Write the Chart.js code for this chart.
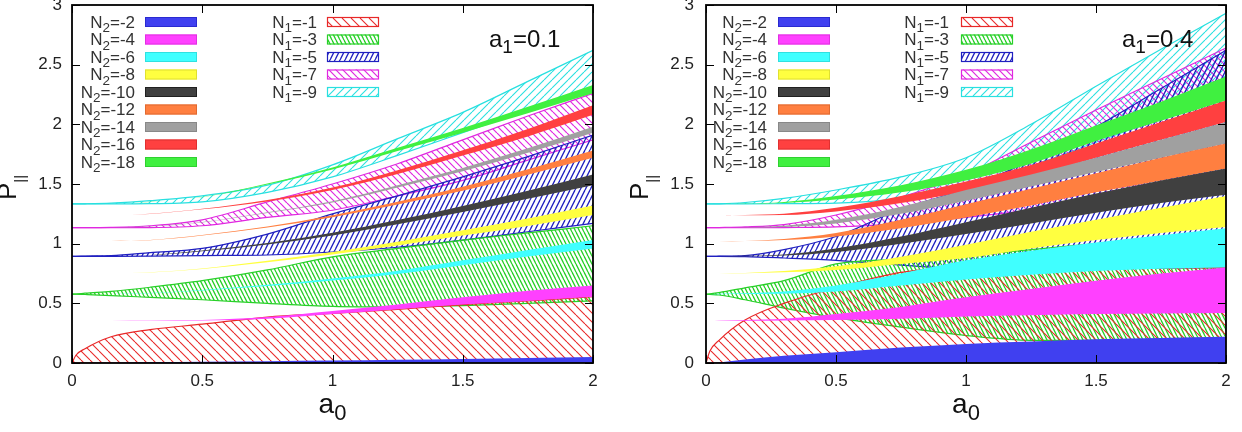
<!DOCTYPE html>
<html><head><meta charset="utf-8">
<script src="https://cdn.jsdelivr.net/npm/chart.js@4/dist/chart.umd.min.js"></script>
<style>
html,body{margin:0;padding:0;background:#fff;}
#wrap{position:relative;width:1242px;height:432px;overflow:hidden;}
.panel{position:absolute;top:0;width:621px;height:432px;}
canvas{display:block;}
</style></head><body>
<div id="wrap">
<div class="panel" style="left:0"><canvas id="c1" width="621" height="432"></canvas></div>
<div class="panel" style="left:621px"><canvas id="c2" width="621" height="432"></canvas></div>
</div>
<script>
// ---------- data ----------
const a0Grid = [0, 0.015, 0.05, 0.15, 0.3, 0.5, 0.75, 1, 1.25, 1.5, 1.75, 2];
const xTickVals = [0, 0.5, 1, 1.5, 2];
const xTickLabels = ['0', '0.5', '1', '1.5', '2'];
const yTickVals = [0, 0.5, 1, 1.5, 2, 2.5, 3];
const yTickLabels = ['0', '0.5', '1', '1.5', '2', '2.5', '3'];
const n2Names = ['-2', '-4', '-6', '-8', '-10', '-12', '-14', '-16', '-18'];
const n1Names = ['-1', '-3', '-5', '-7', '-9'];
const a1Values = ['0.1', '0.4'];

// panel a1 = 0.1 : N2 solid bands (lower / upper)
const A_N2m2_lo  = [0,0,0,0,0,0,0,0,0,0,0,0];
const A_N2m2_hi  = [0,0,0.001,0.003,0.006,0.01,0.015,0.02,0.027,0.034,0.042,0.05];
const A_N2m4_lo  = [0.354,0.354,0.354,0.354,0.354,0.356,0.37,0.41,0.45,0.49,0.52,0.555];
const A_N2m4_hi  = [0.354,0.354,0.354,0.355,0.356,0.36,0.385,0.435,0.49,0.55,0.605,0.65];
const A_N2m6_lo  = [0.577,0.577,0.577,0.579,0.584,0.608,0.645,0.691,0.746,0.82,0.893,0.96];
const A_N2m6_hi  = [0.577,0.577,0.577,0.579,0.586,0.612,0.655,0.709,0.774,0.86,0.947,1.03];
const A_N2m8_lo  = [0.75,0.75,0.75,0.752,0.759,0.788,0.844,0.91,0.984,1.068,1.149,1.24];
const A_N2m8_hi  = [0.75,0.75,0.75,0.752,0.761,0.792,0.856,0.93,1.016,1.112,1.211,1.32];
const A_N2m10_lo = [0.894,0.894,0.894,0.896,0.904,0.937,0.994,1.069,1.162,1.265,1.376,1.49];
const A_N2m10_hi = [0.894,0.894,0.894,0.896,0.906,0.943,1.006,1.091,1.198,1.315,1.444,1.58];
const A_N2m12_lo = [1.021,1.021,1.021,1.023,1.029,1.068,1.136,1.222,1.328,1.443,1.577,1.72];
const A_N2m12_hi = [1.021,1.021,1.021,1.023,1.031,1.072,1.144,1.238,1.352,1.477,1.623,1.78];
const A_N2m14_lo = [1.134,1.134,1.134,1.136,1.144,1.178,1.256,1.344,1.47,1.606,1.761,1.93];
const A_N2m14_hi = [1.134,1.134,1.134,1.136,1.146,1.182,1.264,1.356,1.49,1.634,1.799,1.98];
const A_N2m16_lo = [1.237,1.237,1.237,1.239,1.249,1.288,1.354,1.45,1.584,1.738,1.899,2.08];
const A_N2m16_hi = [1.237,1.237,1.237,1.239,1.251,1.292,1.366,1.47,1.616,1.782,1.961,2.16];
const A_N2m18_lo = [1.333,1.333,1.333,1.335,1.349,1.388,1.495,1.621,1.776,1.930,2.093,2.26];
const A_N2m18_hi = [1.333,1.333,1.333,1.335,1.351,1.392,1.505,1.639,1.804,1.970,2.147,2.33];
// panel a1 = 0.1 : N1 hatched bands
const A_N1m1_lo  = [0,0,0,0,0,0,0,0,0,0,0,0];
const A_N1m1_hi  = [0,0.065,0.12,0.22,0.28,0.325,0.385,0.415,0.45,0.49,0.52,0.555];
const A_N1m3_lo  = [0.577,0.577,0.574,0.565,0.55,0.53,0.50,0.475,0.47,0.48,0.5,0.52];
const A_N1m3_hi  = [0.577,0.578,0.585,0.60,0.635,0.69,0.78,0.89,0.96,1.03,1.09,1.15];
const A_N1m5_lo  = [0.894,0.894,0.894,0.894,0.895,0.90,0.905,0.93,0.97,1.03,1.10,1.17];
const A_N1m5_hi  = [0.894,0.894,0.896,0.90,0.925,0.96,1.08,1.25,1.40,1.56,1.73,1.91];
const A_N1m7_lo  = [1.134,1.134,1.134,1.134,1.135,1.15,1.22,1.28,1.40,1.53,1.70,1.87];
const A_N1m7_hi  = [1.134,1.134,1.134,1.136,1.15,1.2,1.35,1.5,1.67,1.87,2.07,2.26];
const A_N1m9_lo  = [1.333,1.333,1.333,1.333,1.335,1.35,1.43,1.56,1.74,1.93,2.12,2.31];
const A_N1m9_hi  = [1.333,1.333,1.334,1.34,1.36,1.40,1.49,1.66,1.88,2.10,2.36,2.62];

// panel a1 = 0.4 : N2 solid bands
const B_N2m2_lo  = [0,0,0,0,0,0,0,0,0,0,0,0];
const B_N2m2_hi  = [0,0.002,0.005,0.03,0.06,0.09,0.13,0.16,0.18,0.20,0.21,0.22];
const B_N2m4_lo  = [0.354,0.354,0.354,0.355,0.357,0.36,0.37,0.39,0.40,0.41,0.415,0.42];
const B_N2m4_hi  = [0.354,0.354,0.356,0.36,0.37,0.41,0.47,0.55,0.62,0.69,0.75,0.80];
const B_N2m6_lo  = [0.577,0.577,0.577,0.578,0.58,0.60,0.65,0.70,0.74,0.77,0.79,0.80];
const B_N2m6_hi  = [0.577,0.577,0.58,0.585,0.60,0.65,0.75,0.86,0.94,1.01,1.07,1.13];
const B_N2m8_lo  = [0.75,0.75,0.75,0.752,0.76,0.78,0.83,0.88,0.96,1.03,1.09,1.14];
const B_N2m8_hi  = [0.75,0.75,0.751,0.755,0.77,0.81,0.89,0.99,1.10,1.20,1.30,1.40];
const B_N2m10_lo = [0.894,0.894,0.894,0.895,0.90,0.93,1.0,1.08,1.17,1.26,1.34,1.41];
const B_N2m10_hi = [0.894,0.894,0.895,0.898,0.91,0.96,1.06,1.18,1.30,1.42,1.53,1.63];
const B_N2m12_lo = [1.021,1.021,1.021,1.022,1.03,1.06,1.13,1.22,1.32,1.43,1.53,1.63];
const B_N2m12_hi = [1.021,1.021,1.021,1.023,1.04,1.09,1.20,1.33,1.46,1.59,1.72,1.84];
const B_N2m14_lo = [1.134,1.134,1.134,1.135,1.14,1.17,1.25,1.36,1.48,1.60,1.72,1.84];
const B_N2m14_hi = [1.134,1.134,1.134,1.137,1.15,1.20,1.31,1.45,1.58,1.72,1.87,2.02];
const B_N2m16_lo = [1.237,1.237,1.237,1.238,1.24,1.27,1.34,1.44,1.56,1.72,1.87,2.02];
const B_N2m16_hi = [1.237,1.237,1.237,1.24,1.25,1.30,1.40,1.52,1.66,1.84,2.02,2.20];
const B_N2m18_lo = [1.333,1.333,1.333,1.334,1.34,1.37,1.43,1.53,1.67,1.86,2.03,2.20];
const B_N2m18_hi = [1.333,1.333,1.333,1.336,1.35,1.40,1.49,1.62,1.79,1.99,2.19,2.40];
// panel a1 = 0.4 : N1 hatched bands
const B_N1m1_lo  = [0,0,0,0,0,0,0,0,0,0,0,0];
const B_N1m1_hi  = [0,0.10,0.19,0.36,0.50,0.63,0.76,0.80,0.80,0.80,0.80,0.80];
const B_N1m3_lo  = [0.577,0.575,0.57,0.53,0.46,0.38,0.30,0.23,0.19,0.19,0.20,0.21];
const B_N1m3_hi  = [0.577,0.58,0.59,0.63,0.69,0.83,0.87,0.90,0.95,1.0,1.05,1.1];
const B_N1m5_lo  = [0.894,0.894,0.894,0.892,0.88,0.86,0.82,0.79,0.79,0.79,0.795,0.80];
const B_N1m5_hi  = [0.894,0.894,0.895,0.90,0.95,1.06,1.29,1.46,1.70,1.98,2.30,2.62];
const B_N1m7_lo  = [1.134,1.134,1.134,1.134,1.135,1.14,1.17,1.22,1.28,1.34,1.40,1.46];
const B_N1m7_hi  = [1.134,1.134,1.135,1.14,1.16,1.24,1.39,1.58,1.85,2.12,2.38,2.64];
const B_N1m9_lo  = [1.333,1.333,1.333,1.333,1.335,1.34,1.38,1.48,1.65,1.85,2.05,2.25];
const B_N1m9_hi  = [1.333,1.333,1.334,1.345,1.38,1.45,1.56,1.72,2.0,2.32,2.63,2.93];

// ---------- styles ----------
const n2Colors = ['#4040f0','#ff40ff','#40ffff','#ffff40','#404040','#ff7f40','#a0a0a0','#ff4040','#40f040'];
const n2Edge   = ['#2a2ad0','#e030e0','#30e0e0','#e0e030','#202020','#e06a30','#888888','#e03030','#30d030'];
const n1Colors = ['#e82828','#28d028','#2020c0','#e028e0','#28e0e0'];
const n1Hatch  = [
  {dir:'\\', p:9, steep:false, lw:1.1},
  {dir:'\\', p:4, steep:true,  lw:1.3},
  {dir:'/',  p:5, steep:true,  lw:1.3},
  {dir:'\\', p:7, steep:false, lw:1.2},
  {dir:'/',  p:8, steep:false, lw:1.1}
];
const FONT = '"Liberation Sans", Arial, Helvetica, sans-serif';

const panels = [
  { canvas:'c1', a1:a1Values[0],
    n2:[[A_N2m2_lo,A_N2m2_hi],[A_N2m4_lo,A_N2m4_hi],[A_N2m6_lo,A_N2m6_hi],[A_N2m8_lo,A_N2m8_hi],[A_N2m10_lo,A_N2m10_hi],[A_N2m12_lo,A_N2m12_hi],[A_N2m14_lo,A_N2m14_hi],[A_N2m16_lo,A_N2m16_hi],[A_N2m18_lo,A_N2m18_hi]],
    n1:[[A_N1m1_lo,A_N1m1_hi],[A_N1m3_lo,A_N1m3_hi],[A_N1m5_lo,A_N1m5_hi],[A_N1m7_lo,A_N1m7_hi],[A_N1m9_lo,A_N1m9_hi]],
    lay:{yW:72, padR:28, tickPad:10, n2R:135, n2Sw:145, n1R:317, n1Sw:327, titleX:489, ylabX:16} },
  { canvas:'c2', a1:a1Values[1],
    n2:[[B_N2m2_lo,B_N2m2_hi],[B_N2m4_lo,B_N2m4_hi],[B_N2m6_lo,B_N2m6_hi],[B_N2m8_lo,B_N2m8_hi],[B_N2m10_lo,B_N2m10_hi],[B_N2m12_lo,B_N2m12_hi],[B_N2m14_lo,B_N2m14_hi],[B_N2m16_lo,B_N2m16_hi],[B_N2m18_lo,B_N2m18_hi]],
    n1:[[B_N1m1_lo,B_N1m1_hi],[B_N1m3_lo,B_N1m3_hi],[B_N1m5_lo,B_N1m5_hi],[B_N1m7_lo,B_N1m7_hi],[B_N1m9_lo,B_N1m9_hi]],
    lay:{yW:85, padR:16, tickPad:12, n2R:146, n2Sw:157, n1R:328, n1Sw:340, titleX:501, ylabX:27} }
];

function makePattern(color, spec) {
  const w = spec.p, h = spec.steep ? spec.p * 2 : spec.p;
  const c = document.createElement('canvas');
  c.width = w; c.height = h;
  const g = c.getContext('2d');
  g.strokeStyle = color; g.lineWidth = spec.lw;
  for (let k = -1; k <= 1; k++) {
    g.beginPath();
    if (spec.dir === '\\') { g.moveTo(k*w, 0); g.lineTo(k*w + w, h); }
    else { g.moveTo(k*w + w, 0); g.lineTo(k*w, h); }
    g.stroke();
  }
  return g.createPattern(c, 'repeat');
}

function pts(arr) { return a0Grid.map((x, i) => ({x: x, y: arr[i]})); }

function drawSubText(ctx, x, y, base, sub, rest, size, subSize, subDy, align, color) {
  const fm = size + 'px ' + FONT, fs = subSize + 'px ' + FONT;
  ctx.font = fm; const wb = ctx.measureText(base).width; const wr = ctx.measureText(rest).width;
  ctx.font = fs; const ws = ctx.measureText(sub).width;
  const tot = wb + ws + wr;
  let sx = x;
  if (align === 'right') sx = x - tot; else if (align === 'center') sx = x - tot / 2;
  ctx.fillStyle = color; ctx.textAlign = 'left'; ctx.textBaseline = 'alphabetic';
  ctx.font = fm; ctx.fillText(base, sx, y);
  ctx.font = fs; ctx.fillText(sub, sx + wb, y + subDy);
  ctx.font = fm; if (rest) ctx.fillText(rest, sx + wb + ws, y);
}

function build(panel) {
  const patterns = n1Colors.map((c, i) => makePattern(c, n1Hatch[i]));
  const ds = [];
  const common = {showLine:true, pointRadius:0, pointHoverRadius:0, cubicInterpolationMode:'monotone'};
  panel.n2.forEach((pair, i) => {
    ds.push(Object.assign({}, common, {data:pts(pair[0]), borderWidth:0, borderColor:'transparent', fill:false}));
    ds.push(Object.assign({}, common, {data:pts(pair[1]), borderWidth:0, borderColor:'transparent', fill:'-1', backgroundColor:n2Colors[i]}));
  });
  panel.n1.forEach((pair, i) => {
    ds.push(Object.assign({}, common, {data:pts(pair[0]), borderWidth:1.2, borderColor:n1Colors[i], fill:false}));
    ds.push(Object.assign({}, common, {data:pts(pair[1]), borderWidth:1.2, borderColor:n1Colors[i], fill:'-1', backgroundColor:patterns[i]}));
  });
  const L = panel.lay;

  const decor = {
    id: 'decor',
    afterDatasetsDraw(chart) {
      const ctx = chart.ctx, ca = chart.chartArea, xs = chart.scales.x, ys = chart.scales.y;
      ctx.save();
      ctx.strokeStyle = '#000'; ctx.lineWidth = 1;
      ctx.beginPath();
      xTickVals.forEach(v => {
        const px = Math.round(xs.getPixelForValue(v)) + 0.5;
        ctx.moveTo(px, ca.bottom); ctx.lineTo(px, ca.bottom - 8);
        ctx.moveTo(px, ca.top); ctx.lineTo(px, ca.top + 8);
      });
      yTickVals.forEach(v => {
        const py = Math.round(ys.getPixelForValue(v)) + 0.5;
        ctx.moveTo(ca.left, py); ctx.lineTo(ca.left + 8, py);
        ctx.moveTo(ca.right, py); ctx.lineTo(ca.right - 8, py);
      });
      ctx.stroke();
      ctx.lineWidth = 1.8; ctx.strokeStyle = '#000';
      ctx.strokeRect(ca.left, ca.top, ca.right - ca.left, ca.bottom - ca.top);

      // legend
      for (let i = 0; i < n2Names.length; i++) {
        const cy = 22 + 17.5 * i;
        drawSubText(ctx, L.n2R, cy + 5.5, 'N', '2', '=' + n2Names[i], 17, 13.5, 4.5, 'right', '#333');
        ctx.fillStyle = n2Colors[i]; ctx.fillRect(L.n2Sw, cy - 5, 52, 10);
        ctx.strokeStyle = n2Edge[i]; ctx.lineWidth = 1; ctx.strokeRect(L.n2Sw + 0.5, cy - 4.5, 51, 9);
      }
      for (let i = 0; i < n1Names.length; i++) {
        const cy = 22 + 17.5 * i;
        drawSubText(ctx, L.n1R, cy + 5.5, 'N', '1', '=' + n1Names[i], 17, 13.5, 4.5, 'right', '#333');
        ctx.fillStyle = patterns[i]; ctx.fillRect(L.n1Sw, cy - 5, 52, 10);
        ctx.strokeStyle = n1Colors[i]; ctx.lineWidth = 1.2; ctx.strokeRect(L.n1Sw + 0.5, cy - 4.5, 51, 9);
      }
      // title inside plot
      drawSubText(ctx, L.titleX, 47, 'a', '1', '=' + panel.a1, 24, 19, 6, 'left', '#111');
      // x-axis title
      drawSubText(ctx, (ca.left + ca.right) / 2, 413, 'a', '0', '', 28, 22, 7, 'center', '#111');
      // y-axis title (rotated)
      ctx.save();
      ctx.translate(L.ylabX, 200);
      ctx.rotate(-Math.PI / 2);
      drawSubText(ctx, 0, 0, 'P', '||', '', 26, 15, 9, 'left', '#111');
      ctx.restore();
      ctx.restore();
    }
  };

  return new Chart(document.getElementById(panel.canvas), {
    type: 'scatter',
    data: {datasets: ds},
    options: {
      responsive: false, animation: false, devicePixelRatio: 1, events: [],
      layout: {padding: {left:0, right:L.padR, top:5, bottom:0}},
      plugins: {legend:{display:false}, tooltip:{enabled:false}, filler:{propagate:false}},
      scales: {
        x: {
          type:'linear', min:0, max:2,
          afterBuildTicks: s => { s.ticks = xTickVals.map(v => ({value:v})); },
          grid:{display:false, drawTicks:false}, border:{display:false},
          ticks:{font:{family:FONT, size:17}, color:'#222', padding:8, maxRotation:0, autoSkip:false,
                 callback:(v, i) => xTickLabels[i]},
          afterFit: s => { s.height = 69; s.paddingLeft = 0; s.paddingRight = 0; }
        },
        y: {
          type:'linear', min:0, max:3,
          afterBuildTicks: s => { s.ticks = yTickVals.map(v => ({value:v})); },
          grid:{display:false, drawTicks:false}, border:{display:false},
          ticks:{font:{family:FONT, size:17}, color:'#222', padding:L.tickPad, autoSkip:false,
                 callback:(v, i) => yTickLabels[i]},
          afterFit: s => { s.width = L.yW; s.paddingTop = 0; s.paddingBottom = 0; }
        }
      }
    },
    plugins: [decor]
  });
}

panels.forEach(build);
</script>
</body></html>
